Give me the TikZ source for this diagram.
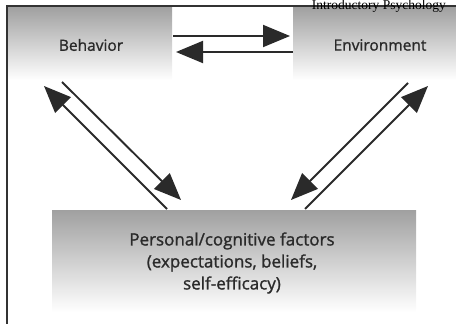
\documentclass[tikz,border=0pt]{standalone}
\usepackage{fontspec}
\setmainfont{Open Sans}[FakeBold=1.2]
\newfontfamily\serifhead{Liberation Serif}
\newfontfamily\boldish{Open Sans}[FakeBold=1.2]
\usetikzlibrary{arrows.meta}
\definecolor{ink}{HTML}{2A2A2A}
\definecolor{boxtop}{HTML}{A0A0A0}
\tikzset{
  label/.style={text=ink, font=\boldish\fontsize{15.5}{21}\selectfont, align=center, inner sep=0pt},
  biglabel/.style={label, font=\boldish\fontsize{17}{22}\selectfont},
  conn/.style={draw=ink, line width=1.9pt, -{Triangle[length=27pt,width=22pt]}},
  gbox/.style={top color=boxtop, bottom color=white, draw=none}
}
\begin{document}
\begin{tikzpicture}[x=1pt,y=-1pt]
\useasboundingbox (0,0) rectangle (456,324);
\begin{scope}
\clip (0,0) rectangle (456,324);
% shaded boxes
\shade[gbox] (8,7) rectangle (172,80);
\shade[gbox] (293,7) rectangle (456,80);
\shade[gbox] (52,210) rectangle (416,312);
% frame
\draw[line width=1.8pt, black!80] (7,324) -- (7,6) -- (456,6);
% header text
\node[anchor=base east, inner sep=0pt, font=\serifhead\fontsize{13.5}{14}\selectfont] (hdr) at (446,9.6) {Introductory Psychology};
% nodes
\node[label] (beh) at (91,45) {Behavior};
\node[label] (env) at (380,45) {Environment};
\node[biglabel] (pers) at (232,263) {Personal/cognitive factors\\(expectations, beliefs,\\self-efficacy)};
% arrow end coordinates
\coordinate (be1) at (173,36); \coordinate (en1) at (290,36);
\coordinate (en2) at (293,52); \coordinate (be2) at (176,52);
\coordinate (bd1) at (62,82);  \coordinate (pd1) at (181,200);
\coordinate (pu1) at (167,209); \coordinate (bu1) at (44,86);
\coordinate (ed1) at (408,83); \coordinate (pd2) at (291,200);
\coordinate (pu2) at (305,209); \coordinate (eu2) at (428,86);
% connectors
\draw[conn] (be1) -- (en1);
\draw[conn] (en2) -- (be2);
\draw[conn] (bd1) -- (pd1);
\draw[conn] (pu1) -- (bu1);
\draw[conn] (ed1) -- (pd2);
\draw[conn] (pu2) -- (eu2);
\end{scope}
\end{tikzpicture}
\end{document}
